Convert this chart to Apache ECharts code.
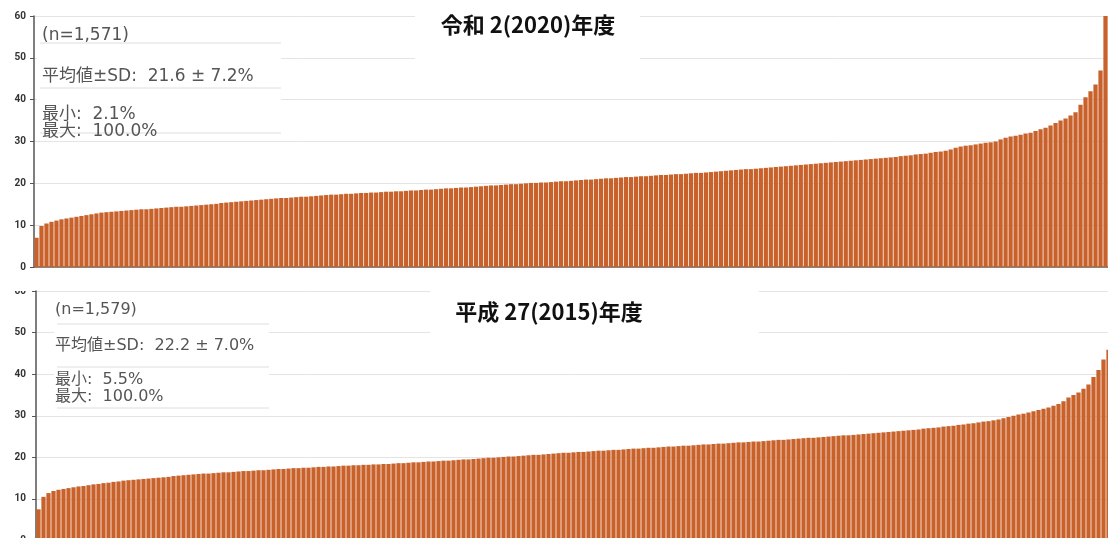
<!DOCTYPE html>
<html>
<head>
<meta charset="utf-8">
<style>
  html, body { margin: 0; padding: 0; background: #fff; }
  #main { width: 1108px; height: 538px; }
</style>
<script src="https://cdn.jsdelivr.net/npm/echarts@6/dist/echarts.min.js"></script>
</head>
<body>
<div id="main"></div>
<script>
// 令和2(2020)年度, sorted ascending (one bar ~ every 5px)
const valuesR2 = [
  7.0, 9.8, 10.4, 10.8, 11.1, 11.4, 11.6, 11.8, 12.0, 12.2,
  12.4, 12.6, 12.8, 13.0, 13.1, 13.2, 13.3, 13.4, 13.5, 13.6,
  13.7, 13.8, 13.8, 13.9, 14.0, 14.1, 14.2, 14.3, 14.4, 14.4,
  14.5, 14.6, 14.7, 14.8, 14.9, 15.0, 15.1, 15.3, 15.4, 15.5,
  15.6, 15.7, 15.8, 15.9, 16.0, 16.1, 16.2, 16.3, 16.4, 16.5,
  16.5, 16.6, 16.7, 16.8, 16.8, 16.9, 17.0, 17.1, 17.2, 17.3,
  17.3, 17.4, 17.5, 17.5, 17.6, 17.7, 17.7, 17.8, 17.8, 17.9,
  18.0, 18.0, 18.1, 18.1, 18.2, 18.3, 18.3, 18.4, 18.5, 18.5,
  18.6, 18.7, 18.8, 18.8, 18.9, 19.0, 19.0, 19.1, 19.2, 19.3,
  19.4, 19.5, 19.5, 19.6, 19.7, 19.8, 19.8, 19.9, 20.0, 20.1,
  20.1, 20.2, 20.2, 20.3, 20.4, 20.5, 20.5, 20.6, 20.7, 20.8,
  20.9, 20.9, 21.0, 21.1, 21.2, 21.2, 21.3, 21.4, 21.5, 21.5,
  21.6, 21.7, 21.7, 21.8, 21.9, 22.0, 22.0, 22.1, 22.2, 22.2,
  22.3, 22.4, 22.5, 22.5, 22.6, 22.7, 22.8, 22.9, 23.0, 23.1,
  23.2, 23.3, 23.4, 23.4, 23.5, 23.6, 23.7, 23.8, 23.9, 24.0,
  24.1, 24.2, 24.3, 24.4, 24.5, 24.6, 24.7, 24.8, 24.9, 25.0,
  25.1, 25.2, 25.3, 25.4, 25.5, 25.6, 25.7, 25.8, 25.9, 26.0,
  26.1, 26.2, 26.3, 26.5, 26.6, 26.7, 26.9, 27.0, 27.1, 27.3,
  27.5, 27.6, 27.8, 28.1, 28.5, 28.8, 29.0, 29.1, 29.3, 29.5,
  29.7, 29.8, 30.0, 30.5, 30.9, 31.2, 31.4, 31.6, 31.9, 32.1,
  32.5, 32.9, 33.3, 33.8, 34.4, 35.0, 35.5, 36.2, 37.0, 38.8,
  40.6, 42.0, 43.6, 47.0, 100.0
];

// 平成27(2015)年度, the right end is cut off in the picture
const valuesH27 = [
  7.5, 10.5, 11.4, 11.9, 12.2, 12.4, 12.6, 12.8, 13.0, 13.1,
  13.3, 13.5, 13.6, 13.8, 13.9, 14.1, 14.2, 14.4, 14.5, 14.6,
  14.7, 14.8, 14.9, 15.0, 15.1, 15.2, 15.3, 15.5, 15.6, 15.7,
  15.8, 15.9, 16.0, 16.1, 16.1, 16.2, 16.3, 16.4, 16.4, 16.5,
  16.6, 16.7, 16.7, 16.8, 16.9, 16.9, 17.0, 17.1, 17.2, 17.2,
  17.3, 17.4, 17.4, 17.5, 17.5, 17.6, 17.7, 17.7, 17.8, 17.8,
  17.9, 18.0, 18.0, 18.1, 18.1, 18.2, 18.2, 18.3, 18.3, 18.4,
  18.4, 18.5, 18.6, 18.6, 18.7, 18.8, 18.8, 18.9, 19.0, 19.0,
  19.1, 19.2, 19.2, 19.3, 19.4, 19.5, 19.5, 19.6, 19.7, 19.8,
  19.9, 19.9, 20.0, 20.1, 20.2, 20.2, 20.3, 20.4, 20.5, 20.6,
  20.6, 20.7, 20.8, 20.9, 21.0, 21.1, 21.1, 21.2, 21.3, 21.3,
  21.4, 21.5, 21.6, 21.6, 21.7, 21.8, 21.8, 21.9, 22.0, 22.1,
  22.1, 22.2, 22.3, 22.3, 22.4, 22.5, 22.6, 22.6, 22.7, 22.8,
  22.8, 22.9, 23.0, 23.1, 23.1, 23.2, 23.3, 23.3, 23.4, 23.5,
  23.6, 23.6, 23.7, 23.8, 23.8, 23.9, 24.0, 24.1, 24.2, 24.2,
  24.3, 24.4, 24.5, 24.6, 24.7, 24.7, 24.8, 24.9, 25.0, 25.1,
  25.2, 25.3, 25.3, 25.4, 25.5, 25.6, 25.7, 25.8, 25.9, 26.0,
  26.1, 26.2, 26.3, 26.4, 26.5, 26.6, 26.7, 26.9, 27.0, 27.1,
  27.2, 27.4, 27.5, 27.6, 27.8, 27.9, 28.1, 28.2, 28.4, 28.6,
  28.7, 28.9, 29.1, 29.4, 29.7, 30.0, 30.3, 30.5, 30.8, 31.1,
  31.4, 31.7, 32.0, 32.4, 32.8, 33.5, 34.4, 35.0, 35.6, 36.5,
  37.5, 39.3, 41.0, 43.5, 45.9
];

const ranksR2 = valuesR2.map((v, i) => i + 1);
const ranksH27 = valuesH27.map((v, i) => i + 1);

const titles = ['令和 2(2020)年度', '平成 27(2015)年度'];
const statsR2 = ['(n=1,571)', '平均値±SD:  21.6 ± 7.2%', '最小:  2.1%', '最大:  100.0%'];
const statsH27 = ['(n=1,579)', '平均値±SD:  22.2 ± 7.0%', '最小:  5.5%', '最大:  100.0%'];

const barColor = '#c9622a';
const gridColor = '#e4e4e4';
const axisColor = '#555';
const statFont = '"DejaVu Sans", "Noto Sans CJK JP", sans-serif';
const titleFont = '"Noto Sans CJK JP", sans-serif';

var myChart = echarts.init(document.getElementById('main'));

function yAxisCfg(gridIndex, margin) {
  return {
    type: 'value',
    gridIndex: gridIndex,
    min: 0,
    max: 60,
    interval: 10,
    axisLine: { show: true, lineStyle: { color: axisColor, width: 1.5 } },
    axisTick: { show: true, length: 4, lineStyle: { color: axisColor } },
    axisLabel: {
      margin: margin,
      color: '#333',
      fontSize: 10,
      fontWeight: 'bold',
      fontFamily: 'Roboto, sans-serif'
    },
    splitLine: { lineStyle: { color: gridColor, width: 1 } }
  };
}

function xAxisCfg(gridIndex, data) {
  return {
    type: 'category',
    gridIndex: gridIndex,
    data: data,
    axisLine: { show: true, lineStyle: { color: '#666', width: 1.5 } },
    axisTick: { show: false },
    axisLabel: { show: false }
  };
}

function statBox(x, y, w, h, sepYs, lines, textYs, textX, size) {
  const els = [{
    type: 'rect',
    shape: { x: x, y: y, width: w, height: h },
    style: { fill: '#fff' },
    z: 100
  }];
  sepYs.forEach(function (sy) {
    els.push({
      type: 'line',
      shape: { x1: x + 3, y1: sy, x2: x + w, y2: sy },
      style: { stroke: '#dedede', lineWidth: 1 },
      z: 101
    });
  });
  lines.forEach(function (t, i) {
    els.push({
      type: 'text',
      x: textX,
      y: textYs[i],
      style: {
        text: t,
        fill: '#555',
        font: size + 'px ' + statFont,
        textVerticalAlign: 'middle'
      },
      z: 102
    });
  });
  return els;
}

function titleBox(x, y, w, h, cx, cy, text) {
  return [{
    type: 'rect',
    shape: { x: x, y: y, width: w, height: h },
    style: { fill: '#fff' },
    z: 100
  }, {
    type: 'text',
    x: cx,
    y: cy,
    style: {
      text: text,
      fill: '#111',
      font: 'bold 22px ' + titleFont,
      textAlign: 'center',
      textVerticalAlign: 'middle'
    },
    z: 102
  }];
}

let graphics = [];
graphics = graphics.concat(statBox(37, 18, 244, 123, [43, 88, 133], statsR2, [36, 77, 115, 132], 42, 17));
graphics = graphics.concat(statBox(54, 294, 215, 118, [324, 367, 408], statsH27, [310, 346, 380, 397], 55, 16));
graphics = graphics.concat(titleBox(415, 8, 225, 51, 528, 25, titles[0]));
graphics = graphics.concat(titleBox(430, 284, 329, 51, 549, 312, titles[1]));
// top half of the lower chart's "60" label is cut off in the picture
graphics.push({
  type: 'rect',
  shape: { x: 0, y: 273, width: 34, height: 18 },
  style: { fill: '#fff' },
  z: 100
});

const option = {
  animation: false,
  backgroundColor: '#fff',
  grid: [
    { left: 34, top: 16, right: 0, bottom: 271, outerBoundsMode: 'none' },
    { left: 36, top: 291, right: -3, bottom: -2.5, outerBoundsMode: 'none' }
  ],
  xAxis: [xAxisCfg(0, ranksR2), xAxisCfg(1, ranksH27)],
  yAxis: [yAxisCfg(0, 8), yAxisCfg(1, 10)],
  series: [
    {
      name: titles[0],
      type: 'bar',
      xAxisIndex: 0,
      yAxisIndex: 0,
      data: valuesR2,
      barCategoryGap: '15%',
      clip: true,
      silent: true,
      itemStyle: { color: barColor }
    },
    {
      name: titles[1],
      type: 'bar',
      xAxisIndex: 1,
      yAxisIndex: 1,
      data: valuesH27,
      barCategoryGap: '15%',
      clip: true,
      silent: true,
      itemStyle: { color: barColor }
    }
  ],
  graphic: graphics
};

myChart.setOption(option);
</script>
</body>
</html>
